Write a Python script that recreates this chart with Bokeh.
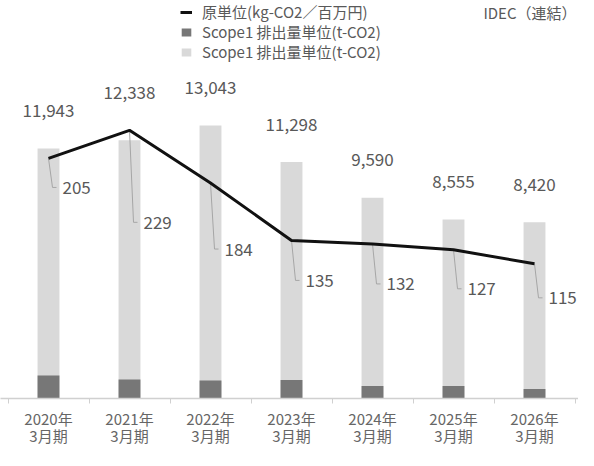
from bokeh.plotting import figure
from bokeh.models import ColumnDataSource, Range1d, FixedTicker, Legend, LegendItem, Label
from bokeh.core.properties import value
from bokeh.embed import file_html
from bokeh.resources import INLINE

# ---- data ----
periods = ["2020年\n3月期", "2021年\n3月期", "2022年\n3月期", "2023年\n3月期",
           "2024年\n3月期", "2025年\n3月期", "2026年\n3月期"]
total_emissions = [11943, 12338, 13043, 11298, 9590, 8555, 8420]
scope1_emissions = [1100, 910, 860, 885, 600, 600, 455]
intensity = [205, 229, 184, 135, 132, 127, 115]
legend_labels = ["原単位(kg-CO2／百万円)", "Scope1 排出量単位(t-CO2)", "Scope1 排出量単位(t-CO2)"]

# ---- styling / layout ----
FONT = "Noto Sans CJK JP"
TEXT_COLOR = "#595959"
W = 578
FRAME_H = 398
CAT_PX = 81
FIRST_PX = 48
BAR_PX = 0.02093      # px per t-CO2
LINE_PX = 1.171       # px per intensity unit
LABEL_DROP_PX = [29, 92, 66, 40, 40, 39, 34]   # leader drop of intensity labels
LEGEND_ROW_PX = [12, 32, 52]                   # legend row centres from top
LEGEND_HALF_H = 10

x = list(range(len(periods)))
y_bar_end = FRAME_H / BAR_PX
y_line_end = FRAME_H / LINE_PX
x0 = -FIRST_PX / CAT_PX

p = figure(frame_width=W, frame_height=FRAME_H, output_backend="svg", toolbar_location=None,
           x_range=Range1d(x0, x0 + W / CAT_PX), y_range=Range1d(0, y_bar_end),
           y_axis_location=None, min_border_left=0, min_border_right=0,
           min_border_top=0, min_border_bottom=0)
p.extra_y_ranges = {"line": Range1d(0, y_line_end)}
p.outline_line_color = None
p.xgrid.visible = False
p.ygrid.visible = False
p.background_fill_color = "white"
p.border_fill_color = "white"

src = ColumnDataSource(dict(
    x=x, total=total_emissions, scope1=scope1_emissions, intensity=intensity,
    total_label=[f"{v:,}" for v in total_emissions],
    total_label_y=[max(t, i * LINE_PX / BAR_PX) for t, i in zip(total_emissions, intensity)],
    int_label=[str(v) for v in intensity],
    int_label_x=[xi + 14 / CAT_PX for xi in x],
    int_label_y=[v - d / LINE_PX for v, d in zip(intensity, LABEL_DROP_PX)],
    lead_xs=[[xi, xi + 4 / CAT_PX, xi + 8 / CAT_PX] for xi in x],
    lead_ys=[[v, v - d / LINE_PX, v - d / LINE_PX] for v, d in zip(intensity, LABEL_DROP_PX)],
))

light = p.vbar(x="x", top="total", width=0.27, fill_color="#d9d9d9", line_color=None, source=src)
dark = p.vbar(x="x", top="scope1", width=0.27, fill_color="#777777", line_color=None, source=src)
p.multi_line(xs="lead_xs", ys="lead_ys", line_color="#a6a6a6", line_width=1,
             y_range_name="line", source=src)
ln = p.line(x="x", y="intensity", line_color="#111111", line_width=3,
            y_range_name="line", source=src)

p.text(x="x", y="total_label_y", text="total_label", y_offset=-38, source=src,
       text_align="center", text_baseline="middle", text_font=value(FONT),
       text_font_size="17px", text_color=TEXT_COLOR)
p.text(x="int_label_x", y="int_label_y", text="int_label", source=src,
       y_range_name="line", text_align="left", text_baseline="middle",
       text_font=value(FONT), text_font_size="17px", text_color=TEXT_COLOR)

ax = p.xaxis[0]
ax.ticker = FixedTicker(ticks=x, minor_ticks=[i - 0.5 for i in range(len(x) + 1)])
ax.major_label_overrides = {i: lab for i, lab in zip(x, periods)}
ax.major_tick_in = 0
ax.major_tick_out = 0
ax.minor_tick_in = 0
ax.minor_tick_out = 5
ax.minor_tick_line_color = "#d0d0d0"
ax.axis_line_color = "#d0d0d0"
ax.axis_line_width = 1.5
ax.major_label_standoff = 4
ax.major_label_text_font = FONT
ax.major_label_text_font_size = "15px"
ax.major_label_text_line_height = 0.85
ax.major_label_text_color = "#666666"

for lab, rend, row in zip(legend_labels, [ln, dark, light], LEGEND_ROW_PX):
    lg = Legend(items=[LegendItem(label=lab, renderers=[rend])],
                location=(180, FRAME_H - row - LEGEND_HALF_H), orientation="vertical",
                background_fill_alpha=0, border_line_alpha=0, padding=0, margin=0, spacing=0,
                glyph_width=12, glyph_height=10, label_standoff=10, label_height=17,
                label_text_font=FONT, label_text_font_size="15px", label_text_color=TEXT_COLOR)
    p.add_layout(lg)

p.add_layout(Label(x=W - 2, y=FRAME_H - 12, x_units="screen", y_units="screen",
                   text="IDEC（連結）", text_align="right", text_baseline="middle",
                   text_font=FONT, text_font_size="15px", text_color=TEXT_COLOR))

open("out.html", "w").write(file_html(p, INLINE))
